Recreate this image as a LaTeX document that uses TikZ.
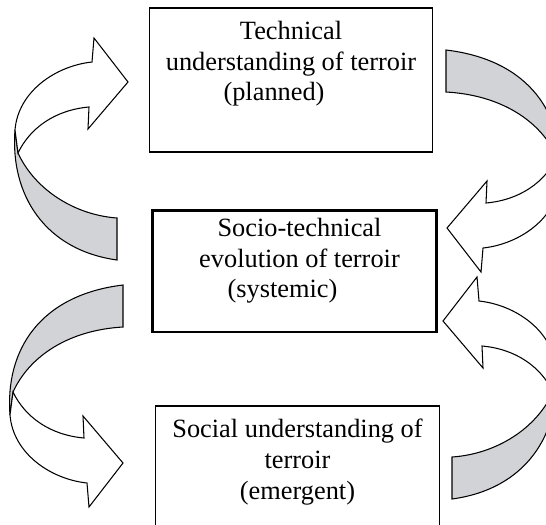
\documentclass[tikz,border=0pt]{standalone}
\usepackage{fontspec}
\setmainfont{Liberation Serif}
\usetikzlibrary{positioning}
\definecolor{ribbon}{RGB}{210,211,214}
% one ribbon arrow, tip to the right, tail at x = #1
\newcommand{\ribbonarrow}[1]{%
  \filldraw[fill=ribbon] (15,130) .. controls (10,195) and (45,250) .. (#1,260)
    -- (#1,218) .. controls (75,215) and (35,190) .. (18,153) -- cycle;
  \filldraw[fill=white] (92,62) .. controls (55,66) and (18,92) .. (15,130)
    -- (18,153) .. controls (30,128) and (55,110) .. (89,107)
    -- (88,129) -- (128,82) -- (94,38) -- cycle;
}

\begin{document}
\begin{tikzpicture}[x=0.02cm,y=-0.02cm,line width=0.6pt,
  stage/.style={draw,inner sep=0pt,minimum width=5.67cm},
  lbl/.style={align=center,inner sep=0pt,font=\fontsize{15}{17.5}\selectfont}]

\useasboundingbox (0,0) rectangle (546,524);
\clip (0,0) rectangle (546,524);

\node[stage,minimum height=2.88cm] (tech) at (291,80) {};
\node[stage,line width=1.7pt,minimum height=2.44cm] (socio) at (294.5,271) {};
\node[stage,minimum height=2.68cm] (social) at (297.5,473) {};

\node[lbl,below=0.26cm of tech.north] (techtxt)
  {Technical\\understanding of terroir\\(planned)\hspace*{0.68cm}};
\node[lbl,below=0.18cm of socio.north,xshift=0.1cm] (sociotxt)
  {Socio-technical\\evolution of terroir\\(systemic)\hspace*{0.68cm}};
\node[lbl,below=0.26cm of social.north] (socialtxt)
  {Social understanding of\\terroir\\(emergent)};

% upper left
\ribbonarrow{117}

% upper right
\begin{scope}[rotate around={180:(287.5,155)}]
\ribbonarrow{129}
\end{scope}

% lower left
\begin{scope}[shift={(-5,545)},yscale=-1]
\ribbonarrow{128}
\end{scope}

% lower right
\begin{scope}[shift={(571,239)},xscale=-1]
\ribbonarrow{119}
\end{scope}

\end{tikzpicture}
\end{document}
